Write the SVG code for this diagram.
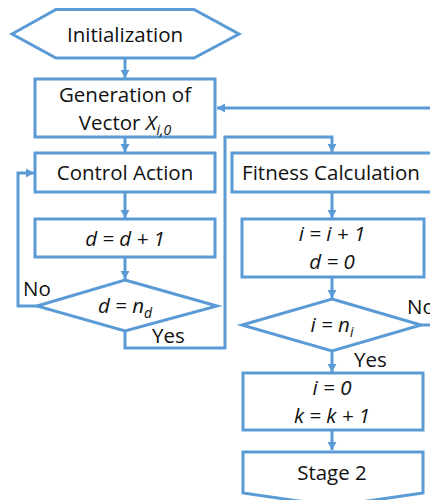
<svg xmlns="http://www.w3.org/2000/svg" width="430" height="500" viewBox="0 0 430 500">
<defs>
<marker id="ah" markerWidth="10" markerHeight="10" refX="8" refY="5" orient="auto" markerUnits="userSpaceOnUse">
<path d="M0,0.5 L8,5 L0,9.5 Z" fill="#5B9BD5"/>
</marker>
<style>
.s{fill:#fff;stroke:#5B9BD5;stroke-width:3}
.c{fill:none;stroke:#5B9BD5;stroke-width:3}
.a{marker-end:url(#ah)}
text{font-family:"Open Sans","Liberation Sans",sans-serif;font-size:20.5px;fill:#111;text-anchor:middle}
.i{font-style:italic}
.l{text-anchor:start}
</style>
</defs>
<rect width="430" height="500" fill="#fff"/>
<g id="connectors">
<path class="c a" d="M125,58 V78"/>
<path class="c a" d="M430,108 H217"/>
<path class="c a" d="M125,137 V152"/>
<path class="c a" d="M125,192 V218"/>
<path class="c a" d="M125,257 V279"/>
<path class="c a" d="M37,306 H18 V173 H34"/>
<path class="c a" d="M125,331 V348 H225 V137 H332 V152"/>
<path class="c a" d="M332,192 V218"/>
<path class="c a" d="M332,277 V298"/>
<path class="c" d="M421,325 H430"/>
<path class="c a" d="M332,351 V372"/>
<path class="c a" d="M332,430 V450"/>
</g>
<g id="init">
<polygon class="s" points="12,34 56,9.5 194,9.5 239,34 194,58 56,58"/>
<text x="125" y="42">Initialization</text>
</g>
<g id="gen">
<rect class="s" x="35" y="79" width="180" height="58"/>
<text x="125" y="102">Generation of</text>
<text x="125" y="130">Vector <tspan class="i">X</tspan><tspan class="i" font-size="14" dy="5">i,0</tspan></text>
</g>
<g id="control">
<rect class="s" x="35" y="153" width="180" height="39"/>
<text x="125" y="180">Control Action</text>
</g>
<g id="dinc">
<rect class="s" x="35" y="219" width="180" height="38"/>
<text x="125" y="246" class="i">d = d + 1</text>
</g>
<g id="dcheck">
<polygon class="s" points="125,280 217,306 125,331 37,306"/>
<text x="125" y="313" class="i">d = n<tspan font-size="14" dy="5">d</tspan></text>
<text x="23" y="296" class="l">No</text>
<text x="152" y="343" class="l">Yes</text>
</g>
<g id="fitness">
<rect class="s" x="232" y="153" width="200" height="39"/>
<text x="331" y="180">Fitness Calculation</text>
</g>
<g id="iinc">
<rect class="s" x="242" y="219" width="182" height="58"/>
<text x="332" y="241" class="i">i = i + 1</text>
<text x="332" y="269" class="i">d = 0</text>
</g>
<g id="icheck">
<polygon class="s" points="332,299 421,325 332,351 242,325"/>
<text x="332" y="332" class="i">i = n<tspan font-size="14" dy="5">i</tspan></text>
<text x="407" y="314" class="l">No</text>
<text x="354" y="367" class="l">Yes</text>
</g>
<g id="reset">
<rect class="s" x="243" y="373" width="180" height="57"/>
<text x="332" y="395" class="i">i = 0</text>
<text x="332" y="423" class="i">k = k + 1</text>
</g>
<g id="stage2">
<polygon class="s" points="243,452 423,452 423,493 333,506 243,493"/>
<text x="332" y="480">Stage 2</text>
</g>
</svg>
